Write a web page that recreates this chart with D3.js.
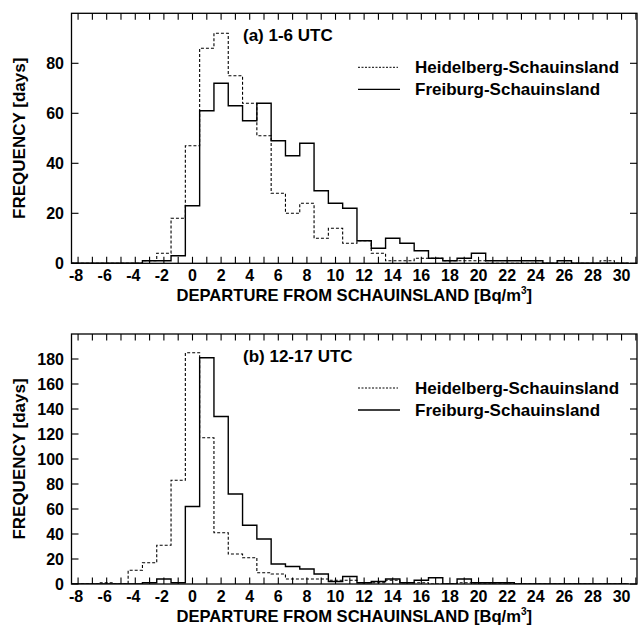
<!DOCTYPE html>
<html>
<head>
<meta charset="utf-8">
<script src="https://cdn.jsdelivr.net/npm/d3@7"></script>
<style>
  body { margin: 0; background: #fff; }
  svg { display: block; }
  text { font-family: "Liberation Sans", Arial, Helvetica, sans-serif; font-weight: bold; fill: #000; }
</style>
</head>
<body>
<script>
// ---- data (bin centers in Bq/m3, counts in days) ----
const bins = [-8,-7,-6,-5,-4,-3,-2,-1,0,1,2,3,4,5,6,7,8,9,10,11,12,13,14,15,16,17,18,19,20,21,22,23,24,25,26,27,28,29,30];

// (a) 1-6 UTC
const heidelbergA = [0,0,0,0,0,1,4,18,47,86,92,75,64,51,28,20,24,10,14,8,9,4,1,1,2,2,1,1,1,0,0,0,0,0,0,0,0,1,0];
const freiburgA   = [0,0,0,0,0,1,1,3,23,61,72,63,57,64,49,43,48,29,24,22,9,6,10,8,5,2,1,2,4,1,1,1,1,0,1,0,0,0,0];

// (b) 12-17 UTC
const heidelbergB = [0,0,1,0,11,17,31,83,185,117,41,24,21,9,8,4,4,4,3,3,1,1,3,1,1,0,0,1,0,0,0,0,0,0,0,0,0,0,0];
const freiburgB   = [0,0,0,0,0,1,4,1,62,181,134,72,47,36,16,14,12,8,2,6,1,2,4,1,3,5,0,4,1,1,1,0,0,0,0,0,0,0,0];

const xTickLabels = [-8,-6,-4,-2,0,2,4,6,8,10,12,14,16,18,20,22,24,26,28,30];
const yTicksA = [0,20,40,60,80];
const yTicksB = [0,20,40,60,80,100,120,140,160,180];

const panels = [
  { title: "(a) 1-6 UTC",   top: 13.3, ymax: 100, yTicks: yTicksA, h: heidelbergA, f: freiburgA },
  { title: "(b) 12-17 UTC", top: 334,  ymax: 200, yTicks: yTicksB, h: heidelbergB, f: freiburgB }
];

const W = 642, H = 625;
const left = 71.5, right = 637, ph = 250;

const svg = d3.select("body").append("svg").attr("width", W).attr("height", H);

const x = d3.scaleLinear().domain([-8.46, 31.08]).range([left, right]);
const minorX = d3.range(-8, 32, 1);

panels.forEach((p, i) => {
  const y = d3.scaleLinear().domain([0, p.ymax]).range([p.top + ph, p.top]);
  const g = svg.append("g");
  const clipId = "clip" + i;
  svg.append("clipPath").attr("id", clipId).append("rect")
    .attr("x", left).attr("y", p.top).attr("width", right - left).attr("height", ph);

  // histogram step paths
  function stepPts(vals) {
    const pts = [[bins[0] - 0.5, 0]];
    vals.forEach((v, k) => { pts.push([bins[k] - 0.5, v]); pts.push([bins[k] + 0.5, v]); });
    pts.push([bins[bins.length - 1] + 0.5, 0]);
    return pts;
  }
  const line = d3.line().x(d => x(d[0])).y(d => y(d[1]));
  g.append("path").attr("d", line(stepPts(p.h)))
    .attr("fill", "none").attr("stroke", "#000").attr("stroke-width", 1.1)
    .attr("stroke-dasharray", "3,2").attr("clip-path", `url(#${clipId})`);
  g.append("path").attr("d", line(stepPts(p.f)))
    .attr("fill", "none").attr("stroke", "#000").attr("stroke-width", 1.4)
    .attr("clip-path", `url(#${clipId})`);

  // frame
  g.append("rect").attr("x", left).attr("y", p.top).attr("width", right - left).attr("height", ph)
    .attr("fill", "none").attr("stroke", "#000").attr("stroke-width", 1.3);

  // x ticks (inward, bottom and top)
  const tl = 6.5;
  minorX.forEach(v => {
    g.append("line").attr("x1", x(v)).attr("x2", x(v)).attr("y1", p.top + ph).attr("y2", p.top + ph - tl)
      .attr("stroke", "#000").attr("stroke-width", 1.1);
    g.append("line").attr("x1", x(v)).attr("x2", x(v)).attr("y1", p.top).attr("y2", p.top + tl)
      .attr("stroke", "#000").attr("stroke-width", 1.1);
  });
  xTickLabels.forEach(v => {
    g.append("text").attr("x", x(v) - (v < 0 ? 2 : 0)).attr("y", p.top + ph + 18)
      .attr("text-anchor", "middle").attr("font-size", 16).text(v);
  });

  // y ticks (inward, left and right)
  p.yTicks.forEach(v => {
    g.append("line").attr("x1", left).attr("x2", left + 7).attr("y1", y(v)).attr("y2", y(v))
      .attr("stroke", "#000").attr("stroke-width", 1.1);
    g.append("line").attr("x1", right).attr("x2", right - 7).attr("y1", y(v)).attr("y2", y(v))
      .attr("stroke", "#000").attr("stroke-width", 1.1);
    g.append("text").attr("x", 64).attr("y", y(v) + 6)
      .attr("text-anchor", "end").attr("font-size", 16).text(v);
  });

  // axis titles
  const xt = g.append("text").attr("x", (left + right) / 2).attr("y", p.top + ph + 38)
    .attr("text-anchor", "middle").attr("font-size", 16.6);
  xt.append("tspan").text("DEPARTURE FROM SCHAUINSLAND [Bq/m");
  xt.append("tspan").attr("font-size", 10).attr("dy", -7).text("3");
  xt.append("tspan").attr("dy", 7).text("]");

  g.append("text").attr("transform", `translate(25,${p.top + ph / 2}) rotate(-90)`)
    .attr("text-anchor", "middle").attr("font-size", 17).text("FREQUENCY [days]");

  // panel title
  g.append("text").attr("x", 243).attr("y", p.top + 28).attr("font-size", 17).text(p.title);

  // legend
  const ly1 = p.top + 54, ly2 = p.top + 76;
  g.append("line").attr("x1", 358).attr("x2", 398).attr("y1", ly1).attr("y2", ly1)
    .attr("stroke", "#000").attr("stroke-width", 1).attr("stroke-dasharray", "2,1.5");
  g.append("text").attr("x", 415).attr("y", ly1 + 6).attr("font-size", 17).text("Heidelberg-Schauinsland");
  g.append("line").attr("x1", 358).attr("x2", 400).attr("y1", ly2).attr("y2", ly2)
    .attr("stroke", "#000").attr("stroke-width", 1.3);
  g.append("text").attr("x", 415).attr("y", ly2 + 6).attr("font-size", 17).text("Freiburg-Schauinsland");
});
</script>
</body>
</html>
